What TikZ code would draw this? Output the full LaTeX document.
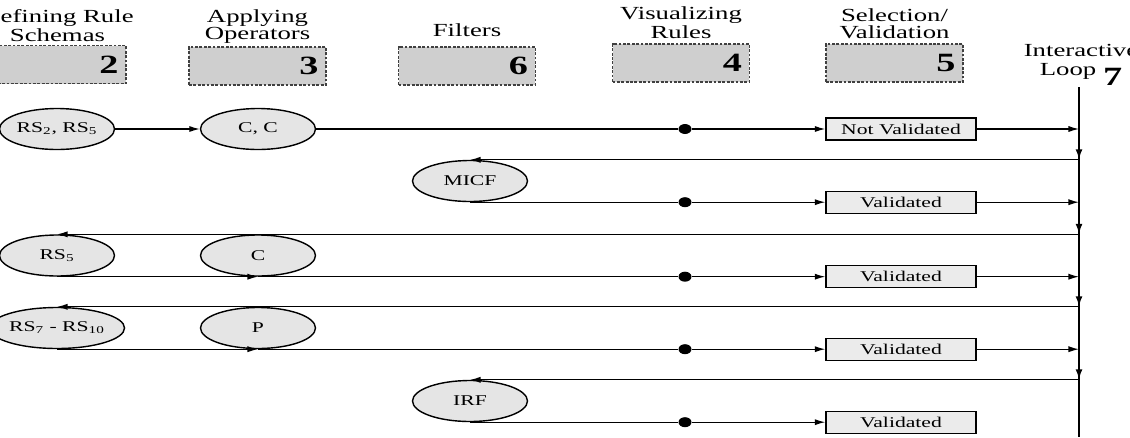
\documentclass[tikz,border=0pt]{standalone}
\usepackage{fontspec}
\setmainfont{Liberation Serif}[FakeStretch=1.45]
\usetikzlibrary{shapes.geometric, arrows.meta, positioning, calc}

\begin{document}
\begin{tikzpicture}[x=0.02cm, y=-0.02cm, line width=0.7pt,
  stage/.style={rectangle, draw=black!75, fill=black!19, line width=0.8pt, dash pattern=on 1.6pt off 0.9pt, minimum width=2.74cm, minimum height=0.76cm, text width=2.44cm, inner xsep=0.15cm, align=right, font=\fontsize{15}{15}\selectfont\bfseries},
  head/.style={inner sep=0pt, align=center, font=\fontsize{10.5}{9.5}\selectfont},
  rulenode/.style={ellipse, draw, line width=0.8pt, fill=black!10, minimum width=2.3cm, minimum height=0.82cm, inner sep=0pt, font=\fontsize{8.5}{9}\selectfont},
  valid/.style={rectangle, draw, line width=0.8pt, fill=black!8, minimum width=3cm, minimum height=0.44cm, inner sep=0pt, font=\fontsize{8.5}{9}\selectfont},
  junc/.style={ellipse, fill=black, inner sep=0pt, minimum width=0.26cm, minimum height=0.2cm},
  arr/.style={-{Latex[length=6pt, width=3.5pt]}},
  loop/.style={-{Latex[length=6pt, width=4pt]}, line width=1.4pt}
]
  \useasboundingbox (0,0) rectangle (1130,437);
  \node[stage] (b2) at (57.5,64.5) {2};
  \node[stage] (b3) at (257.5,66) {3};
  \node[stage] (b6) at (467,66) {6};
  \node[stage] (b4) at (681,63) {4};
  \node[stage] (b5) at (894.5,63) {5};
  \node[head, above=0.05cm of b2] (h2) {Defining Rule\\Schemas};
  \node[head, above=0.05cm of b3] (h3) {Applying\\Operators};
  \node[head, above=0.18cm of b6] (h6) {Filters};
  \node[head, above=0.08cm of b4] (h4) {Visualizing\\Rules};
  \node[head, above=0.08cm of b5] (h5) {Selection/\\Validation};
  \node[head, anchor=north] (h7) at (1081,44) {Interactive\\[1pt]Loop \raisebox{-6pt}{\fontsize{15}{15}\selectfont\bfseries 7}};
  \coordinate (vtop) at (1079,87);
  \coordinate (vbot) at (1079,437);
  \draw[line width=1.4pt] (vtop) -- (vbot);
  \node[rulenode] (rs1) at (57,129) {RS\textsubscript{2}, RS\textsubscript{5}};
  \node[rulenode] (op1) at (258,129) {C, C};
  \node[junc] (d1) at (685,129) {};
  \node[valid] (v1) at (901,129) {Not Validated};
  \coordinate (j1) at (v1 -| vtop);
  \draw[arr] (rs1) -- (op1);
  \draw (op1) -- (d1);
  \draw[arr] (d1) -- (v1);
  \draw[arr] (v1) -- (j1);
  \node[rulenode] (micf) at (470,181) {MICF};
  \coordinate (k1) at (micf.north -| vtop);
  \draw[loop] (j1) -- (k1);
  \draw[arr] (k1) -- (micf.north);
  \node[junc] (d2) at (micf.south -| d1) {};
  \node[valid] (v2) at (d2 -| v1) {Validated};
  \coordinate (j2) at (v2 -| vtop);
  \draw (micf.south) -- (d2);
  \draw[arr] (d2) -- (v2);
  \draw[arr] (v2) -- (j2);
  \node[rulenode] (rs3) at (57,255.5) {RS\textsubscript{5}};
  \node[rulenode] (op3) at (258,255.5) {C};
  \coordinate (k2) at (rs3.north -| vtop);
  \draw[loop] (j2) -- (k2);
  \draw[arr] (k2) -- (rs3.north);
  \node[junc] (d3) at (rs3.south -| d1) {};
  \node[valid] (v3) at (d3 -| v1) {Validated};
  \coordinate (j3) at (v3 -| vtop);
  \draw[arr] (rs3.south) -- (op3.south);
  \draw (op3.south) -- (d3);
  \draw[arr] (d3) -- (v3);
  \draw[arr] (v3) -- (j3);
  \node[rulenode] (rs4) at (57,328) {RS\textsubscript{7} - RS\textsubscript{10}};
  \node[rulenode] (op4) at (258,328) {P};
  \coordinate (k3) at (rs4.north -| vtop);
  \draw[loop] (j3) -- (k3);
  \draw[arr] (k3) -- (rs4.north);
  \node[junc] (d4) at (rs4.south -| d1) {};
  \node[valid] (v4) at (d4 -| v1) {Validated};
  \coordinate (j4) at (v4 -| vtop);
  \draw[arr] (rs4.south) -- (op4.south);
  \draw (op4.south) -- (d4);
  \draw[arr] (d4) -- (v4);
  \draw[arr] (v4) -- (j4);
  \node[rulenode] (irf) at (470,401) {IRF};
  \coordinate (k4) at (irf.north -| vtop);
  \draw[loop] (j4) -- (k4);
  \draw[arr] (k4) -- (irf.north);
  \node[junc] (d5) at (irf.south -| d1) {};
  \node[valid] (v5) at (d5 -| v1) {Validated};
  \draw (irf.south) -- (d5);
  \draw[arr] (d5) -- (v5);
\end{tikzpicture}
\end{document}
